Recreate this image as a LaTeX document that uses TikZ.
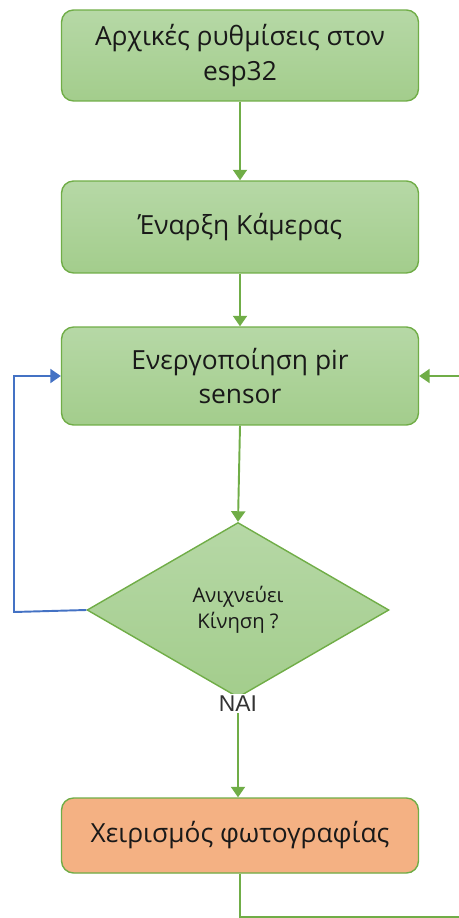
\documentclass[tikz,border=0pt]{standalone}
\usepackage{fontspec}
\setmainfont{Open Sans}
\newfontfamily\labelfont{Liberation Sans}
\usetikzlibrary{shapes.geometric,arrows.meta}

\definecolor{boxgreen}{RGB}{112,173,71}
\definecolor{filltop}{RGB}{182,216,166}
\definecolor{fillbot}{RGB}{163,205,140}
\definecolor{photofill}{RGB}{244,177,131}
\definecolor{loopblue}{RGB}{68,114,196}

\begin{document}
\begin{tikzpicture}[x=0.02cm, y=-0.02cm,
    stepbox/.style={draw=boxgreen, line width=0.8pt, rounded corners=0.24cm,
        top color=filltop, bottom color=fillbot, minimum width=7.14cm,
        align=center, text=black!90, font=\fontsize{15}{19.8}\selectfont},
    decision/.style={diamond, draw=boxgreen, line width=0.8pt, inner sep=0pt,
        top color=filltop, bottom color=fillbot, minimum width=6.04cm,
        minimum height=3.5cm, align=center, text=black!90,
        font=\fontsize{11.5}{15}\selectfont},
    flowline/.style={draw=boxgreen, line width=1.1pt,
        -{Triangle[width=8pt,length=6pt]}},
    backline/.style={draw=loopblue, line width=1.1pt,
        -{Triangle[width=8pt,length=6pt]}}]

    \useasboundingbox (0,0) rectangle (459,918);
    \clip (0,0) rectangle (459,918);

    %% Flow chart

    % Setup
    \node[stepbox, minimum height=1.82cm] (setup) at (240,55.5)
        {Αρχικές ρυθμίσεις στον\\esp32};

    % Camera
    \node[stepbox, minimum height=1.84cm] (cam) at (240,227) {Έναρξη Κάμερας};

    % PIR sensor
    \node[stepbox, minimum height=1.96cm] (pir) at (240,376)
        {Ενεργοποίηση pir\\sensor};

    % Motion check
    \node[decision] (motion) at (238,610) {Ανιχνεύει\\Κίνηση ?};

    % Photo
    \node[stepbox, fill=photofill, top color=photofill, bottom color=photofill,
        minimum height=1.5cm] (photo) at (240,835.5) {Χειρισμός φωτογραφίας};

    % Corners of the loops
    \coordinate (left) at (14,612);
    \coordinate (back) at (480,917);

    % Connectors
    \draw[flowline] (setup) -- (cam);
    \draw[flowline] (cam) -- (pir);
    \draw[flowline] (pir.south) -- (motion.north);
    \draw[flowline] (motion.south) -- (photo.north -| motion.south)
        node[pos=0.05, fill=white, inner sep=1pt, text=black!80,
        font=\labelfont\fontsize{13}{15}\selectfont] {NAI};
    \draw[backline] (motion.west) -- (left) |- (pir.west);
    \draw[flowline] (photo.south) |- (back) |- (pir.east);

\end{tikzpicture}
\end{document}
